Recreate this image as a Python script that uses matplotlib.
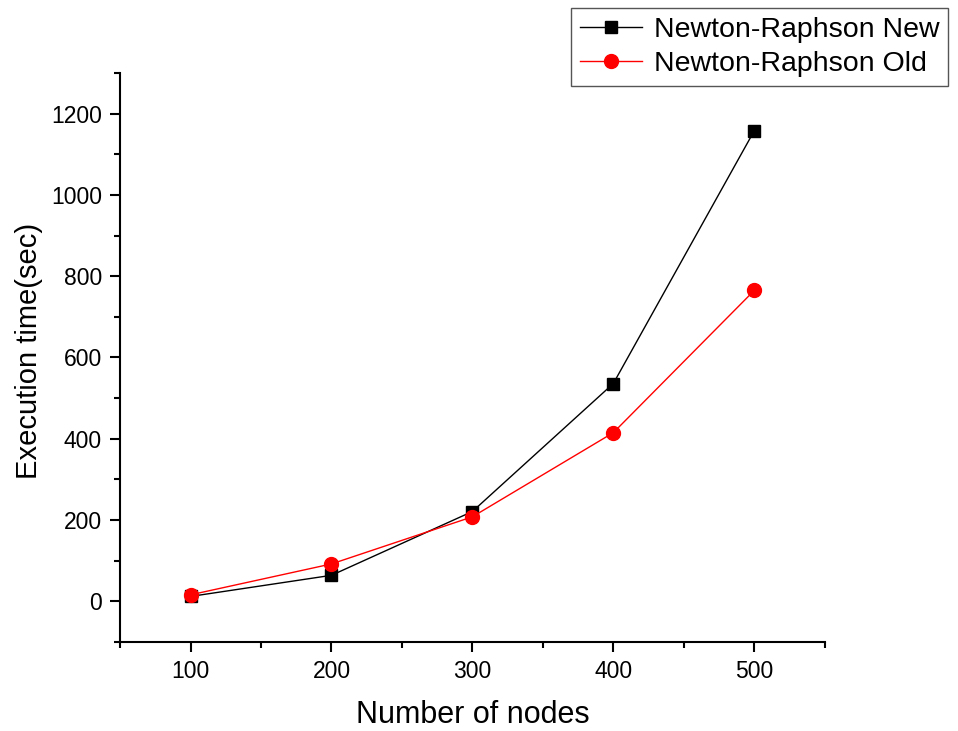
import numpy as np
import matplotlib
matplotlib.use('Agg')
import matplotlib.pyplot as plt
from matplotlib.ticker import MultipleLocator

plt.rcParams['font.family'] = ['Liberation Sans', 'DejaVu Sans']

# данные
nodes = [100, 200, 300, 400, 500]
nr_new = [12, 64, 221, 536, 1158]
nr_old = [16, 92, 208, 415, 765]

fig = plt.figure(figsize=(9.58, 7.31), dpi=100)
ax = fig.add_axes([0.1253, 0.1218, 0.7356, 0.7783])

ax.plot(nodes, nr_new, color='black', lw=1, marker='s', ms=9,
        label='Newton-Raphson New')
ax.plot(nodes, nr_old, color='red', lw=1, marker='o', ms=10,
        label='Newton-Raphson Old')

ax.set_xlim(50, 550)
ax.set_ylim(-100, 1300)
ax.xaxis.set_major_locator(MultipleLocator(100))
ax.xaxis.set_minor_locator(MultipleLocator(50))
ax.yaxis.set_major_locator(MultipleLocator(200))
ax.yaxis.set_minor_locator(MultipleLocator(100))

for s in ['top', 'right']:
    ax.spines[s].set_visible(False)
for s in ['left', 'bottom']:
    ax.spines[s].set_linewidth(1.5)

ax.tick_params(which='major', direction='out', length=7, width=1.5, labelsize=16.5, pad=6)
ax.tick_params(which='minor', direction='out', length=4, width=1.5)

ax.set_xlabel('Number of nodes', fontsize=22, labelpad=12)
ax.set_ylabel('Execution time(sec)', fontsize=21)
ax.yaxis.set_label_coords(-0.109, 0.511)

fig.legend(loc='upper right', bbox_to_anchor=(0.9896, 0.989), borderaxespad=0,
           fontsize=20.5, frameon=True, fancybox=False, edgecolor='#555555',
           framealpha=1, handlelength=2.2, handletextpad=0.4,
           borderpad=0.3, labelspacing=0.3)

fig.savefig('out.png', dpi=100)
